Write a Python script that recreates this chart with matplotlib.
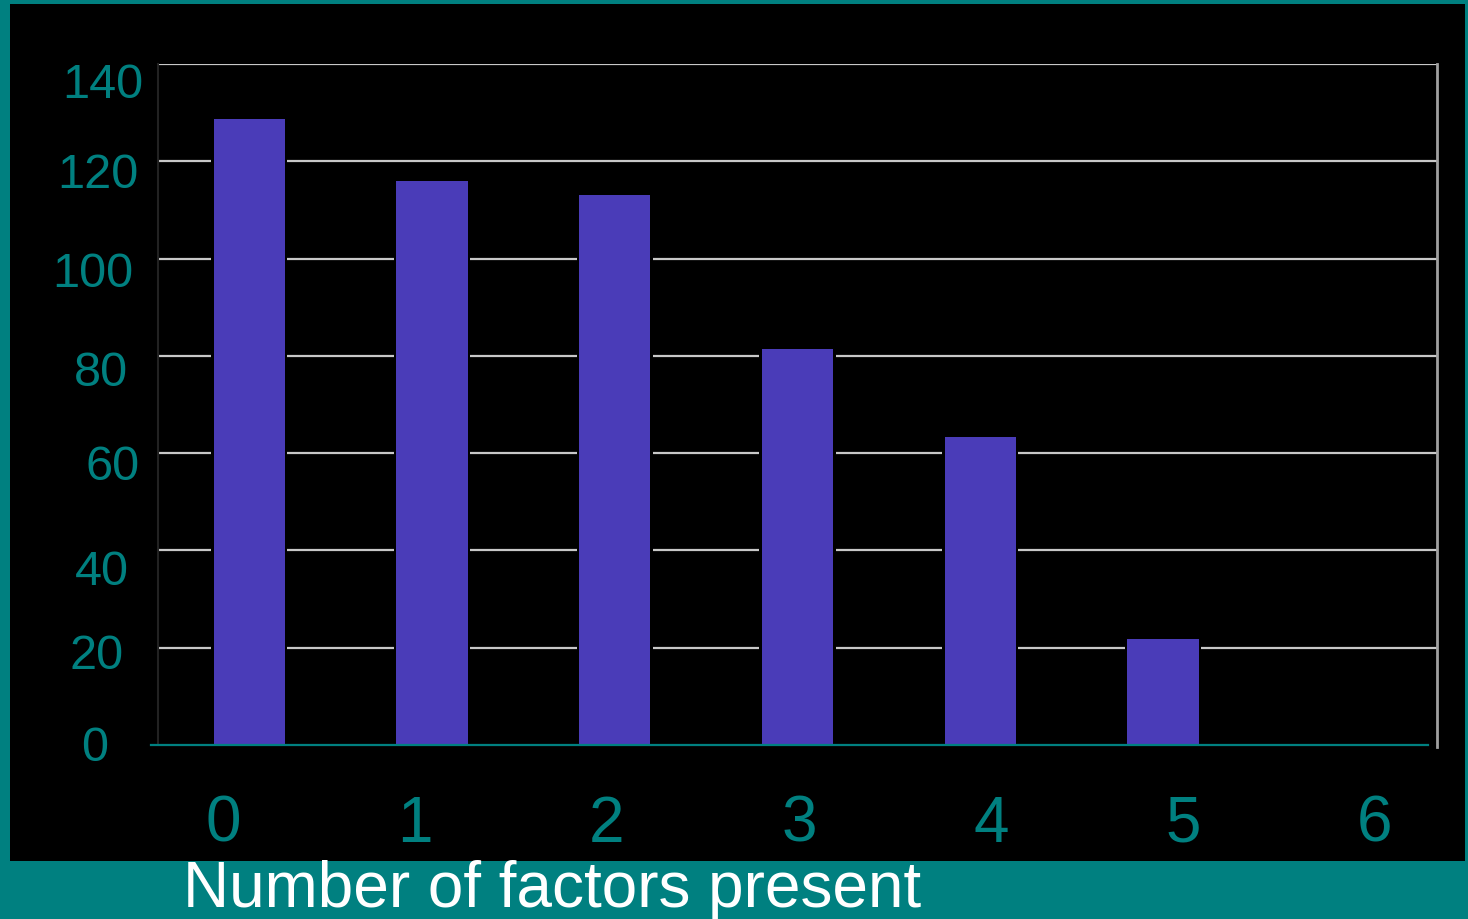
import matplotlib.pyplot as plt
from matplotlib.patches import Rectangle
from matplotlib.transforms import ScaledTranslation

# data
factors = [0, 1, 2, 3, 4, 5, 6]
counts = [128.6, 116, 113, 81.4, 63.3, 21.8, 0]
y_ticks = [0, 20, 40, 60, 80, 100, 120, 140]
x_labels = ['0', '1', '2', '3', '4', '5', '6']

teal = '#008080'
bar_col = '#4a3cb8'

plt.rcParams['font.family'] = ['Liberation Sans', 'DejaVu Sans']

fig = plt.figure(figsize=(14.68, 9.2), dpi=100, facecolor=teal)
# black slide panel
fig.patches.append(Rectangle((10 / 1468, 1 - 862 / 920), 1455 / 1468, 857 / 920,
                             transform=fig.transFigure, facecolor='black',
                             edgecolor='none', zorder=-5))

ax = fig.add_axes([158 / 1468, 1 - 746 / 920, 1279 / 1468, 681 / 920])
ax.set_zorder(2)
ax.set_facecolor('black')
ax.set_xlim(-0.5, 6.5)
ax.set_ylim(0, 140)

for y in y_ticks[1:]:
    ax.axhline(y, color='#c8c8c8', lw=1.6, zorder=1)

# black backing so gridlines stop short of the bars
ax.bar(factors, counts, width=0.39 + 5 / 183, color='black', zorder=2)
ax.bar(factors, counts, width=0.39, color=bar_col, zorder=3)

ax.axhline(0, xmin=-7 / 1279, xmax=1270 / 1279, color=teal, lw=1.6,
           zorder=4, clip_on=False)

for s in ['top', 'bottom']:
    ax.spines[s].set_visible(False)
ax.spines['left'].set_color('#222222')
ax.spines['left'].set_linewidth(1.5)
ax.spines['right'].set_color('#a0a0a0')
ax.spines['right'].set_linewidth(2)
ax.spines['right'].set_bounds(-0.5, 140)

ax.set_xticks([])
ax.set_yticks(y_ticks)
ax.tick_params(axis='y', length=0, pad=12, labelsize=35, labelcolor=teal)

# tick labels in the source sit a bit off, shift each one (order: 0, 20, ..., 140)
shifts = [(-33, 2), (-18, -3), (-12, -16), (-2, -8), (-13, -12), (-8, -10), (-3, -8), (2, -15)]
for lab, (dx, dy) in zip(ax.get_yticklabels(), shifts):
    lab.set_transform(lab.get_transform() + ScaledTranslation(dx / 100, dy / 100, fig.dpi_scale_trans))

for i, t in enumerate(x_labels):
    ax.text((223 - 158 + i * 192) / 1279, -(825 - 746) / 681, t, transform=ax.transAxes,
            ha='center', va='center', fontsize=46, color=teal)

fig.text(183 / 1468, 1 - 890 / 920, 'Number of factors present', ha='left', va='center',
         fontsize=46, color='white')

fig.savefig('out.png', dpi=100, facecolor=teal)
